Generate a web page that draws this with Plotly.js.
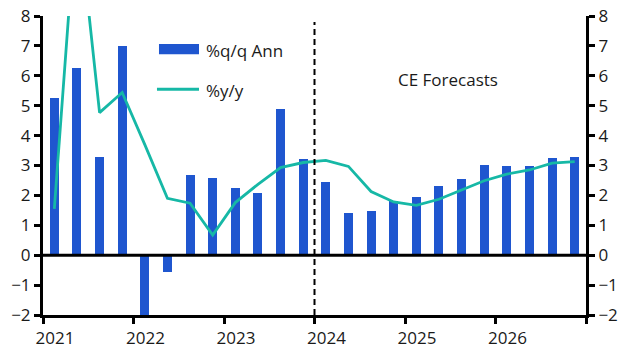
<!DOCTYPE html>
<html>
<head>
<meta charset="utf-8">
<script src="https://cdn.plot.ly/plotly-3.0.1.min.js"></script>
<style>html,body{margin:0;padding:0;background:#fff;}#chart{width:632px;height:357px;}</style>
</head>
<body>
<div id="chart"></div>
<script>
// ---- data ----
const quarters = ["2021Q1","2021Q2","2021Q3","2021Q4","2022Q1","2022Q2","2022Q3","2022Q4",
                  "2023Q1","2023Q2","2023Q3","2023Q4","2024Q1","2024Q2","2024Q3","2024Q4",
                  "2025Q1","2025Q2","2025Q3","2025Q4","2026Q1","2026Q2","2026Q3","2026Q4"];
const qoqAnn = [5.25, 6.25, 3.3, 7.0, -2.0, -0.56, 2.68, 2.58,
                2.24, 2.07, 4.88, 3.21, 2.44, 1.41, 1.47, 1.81,
                1.94, 2.31, 2.54, 3.01, 2.98, 2.97, 3.24, 3.28];
const yoy = [1.55, 11.8, 4.77, 5.44, 3.7, 1.9, 1.74, 0.67,
             1.76, 2.37, 2.93, 3.1, 3.17, 2.97, 2.13, 1.78,
             1.67, 1.87, 2.18, 2.49, 2.71, 2.85, 3.08, 3.13];
const yearTicks = [2021, 2022, 2023, 2024, 2025, 2026, 2027];
const yearLabels = ["2021", "2022", "2023", "2024", "2025", "2026", ""];
const seriesNames = ["%q/q Ann", "%y/y"];
const forecastStart = 2024;
const forecastLabel = "CE Forecasts";

// ---- build ----
const xq = quarters.map(q => {
  const y = parseInt(q.slice(0, 4));
  const n = parseInt(q.slice(5));
  return y + (n - 0.5) / 4;
});
const BAR = "#1f56cf";
const LINE = "#16b8a6";
const FONT = {family: "'Open Sans', Lato, sans-serif", size: 17, color: "#1a1a1a"};

const traces = [
  {type: "bar", x: xq, y: qoqAnn, name: seriesNames[0], width: 0.1,
   marker: {color: BAR}, showlegend: false, yaxis: "y"},
  {type: "scatter", mode: "lines", x: xq, y: yoy, name: seriesNames[1],
   line: {color: LINE, width: 2.8}, showlegend: false, yaxis: "y"}
];

const yCommon = {
  range: [-2, 8], dtick: 1, tick0: 0, showgrid: false, zeroline: false,
  showline: true, linecolor: "#000", linewidth: 3,
  ticks: "outside", ticklen: 6, tickwidth: 3, tickcolor: "#000",
  tickfont: FONT, fixedrange: true
};

const layout = {
  width: 632, height: 357,
  margin: {l: 43, r: 46, t: 16, b: 42},
  paper_bgcolor: "#fff", plot_bgcolor: "#fff",
  font: FONT,
  showlegend: false,
  bargap: 0,
  xaxis: {
    range: [2021, 2027], tickmode: "array", tickvals: yearTicks, ticktext: yearLabels,
    ticklabelshift: 12, showgrid: false, zeroline: false,
    showline: true, linecolor: "#000", linewidth: 3,
    ticks: "outside", ticklen: 6, tickwidth: 3, tickcolor: "#000",
    tickfont: FONT, fixedrange: true
  },
  yaxis: Object.assign({}, yCommon, {side: "left"}),
  yaxis2: Object.assign({}, yCommon, {side: "right", overlaying: "y"}),
  shapes: [
    {type: "line", xref: "paper", yref: "y", x0: 0, x1: 1, y0: 0, y1: 0,
     line: {color: "#000", width: 3}, layer: "above"},
    {type: "line", xref: "x", yref: "paper", x0: forecastStart, x1: forecastStart, y0: 0, y1: 0.98,
     line: {color: "#000", width: 2, dash: "6px,4px"}, layer: "above"},
    // legend swatches
    {type: "rect", xref: "paper", yref: "paper", x0: 0.2136, x1: 0.2873, y0: 0.872, y1: 0.906,
     fillcolor: BAR, line: {width: 0}},
    {type: "line", xref: "paper", yref: "paper", x0: 0.2099, x1: 0.2873, y0: 0.755, y1: 0.755,
     line: {color: LINE, width: 2.8}}
  ],
  annotations: [
    {xref: "paper", yref: "paper", x: 0.2965, y: 0.884, xanchor: "left", yanchor: "middle",
     text: seriesNames[0], showarrow: false, font: FONT},
    {xref: "paper", yref: "paper", x: 0.2965, y: 0.7525, xanchor: "left", yanchor: "middle",
     text: seriesNames[1], showarrow: false, font: FONT},
    {xref: "paper", yref: "paper", x: 0.746, y: 0.789, xanchor: "center", yanchor: "middle",
     text: forecastLabel, showarrow: false, font: FONT}
  ]
};

// invisible trace to activate the right-hand axis
traces.push({type: "scatter", x: [2021], y: [0], yaxis: "y2", mode: "markers",
             marker: {opacity: 0}, showlegend: false, hoverinfo: "skip"});

Plotly.newPlot("chart", traces, layout, {staticPlot: true, displayModeBar: false});
</script>
</body>
</html>
